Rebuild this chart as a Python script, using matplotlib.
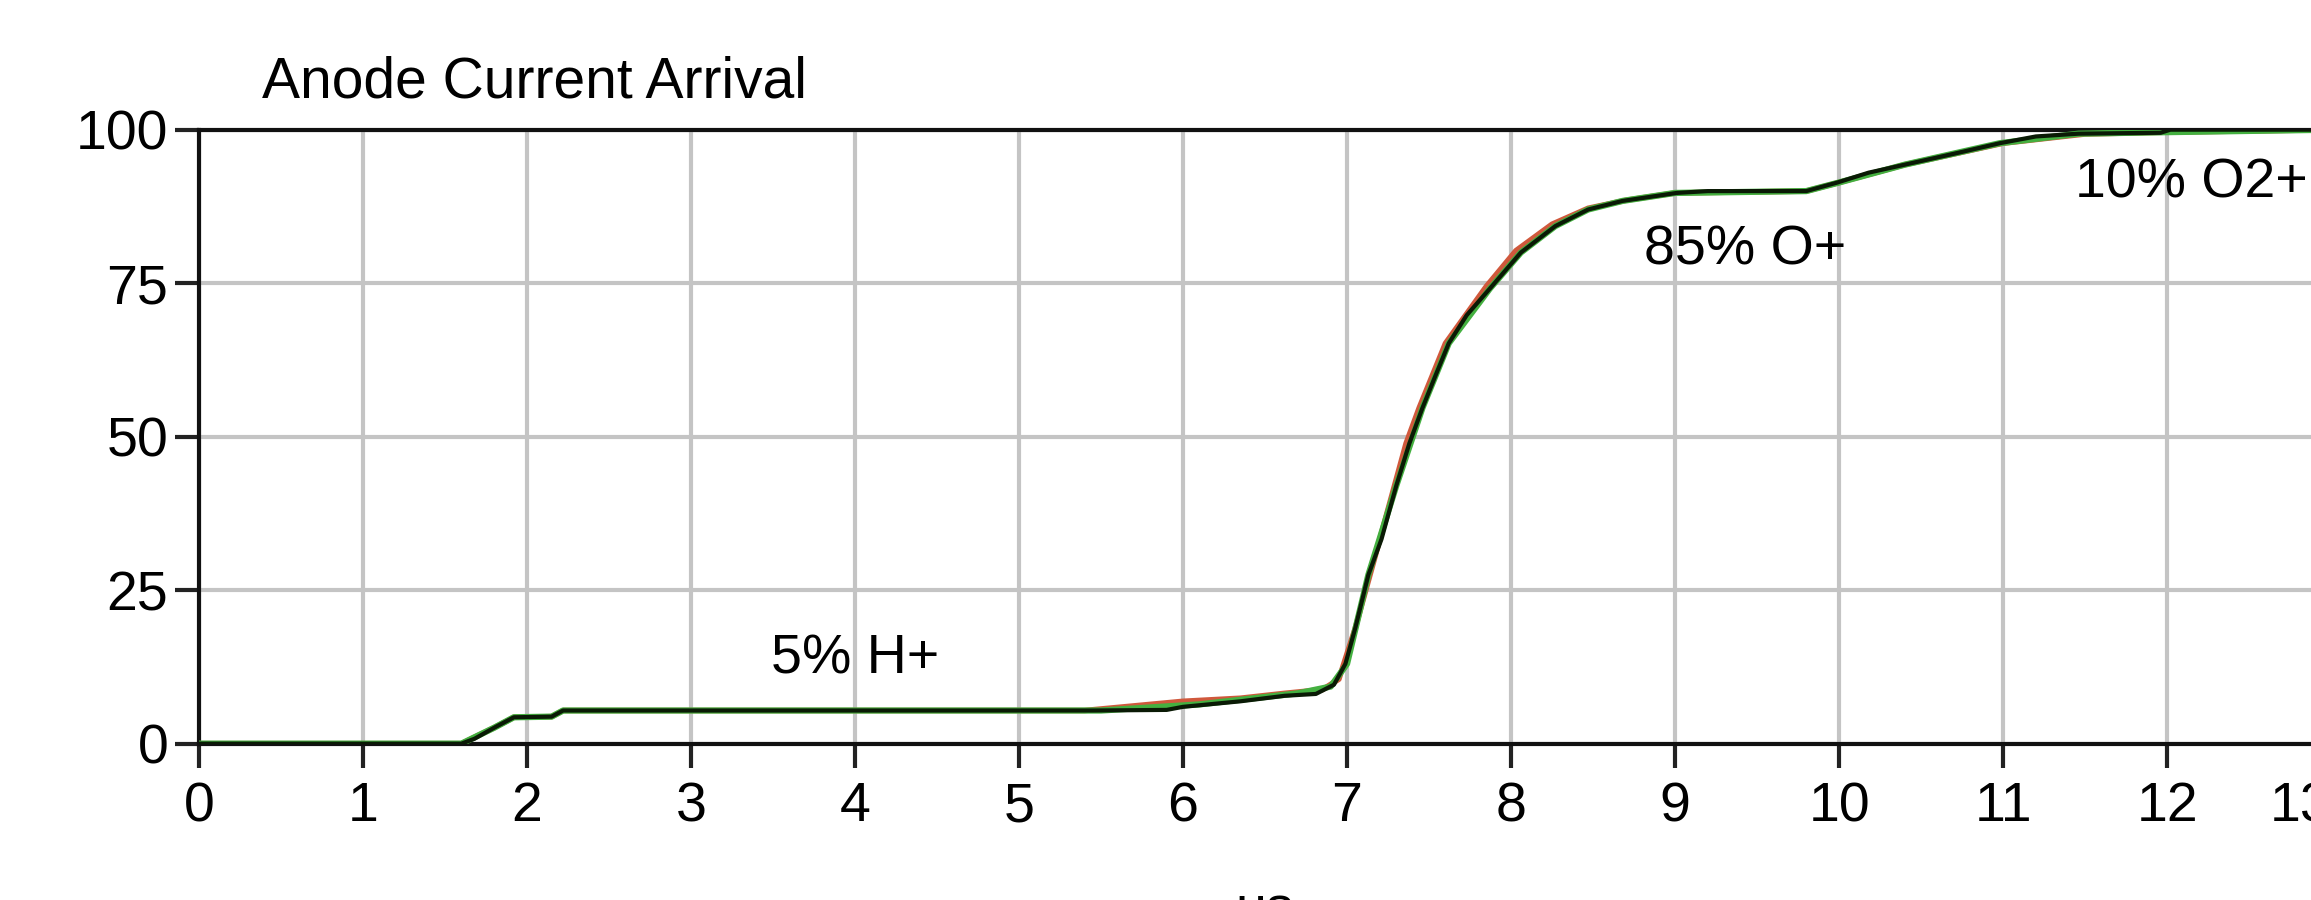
import matplotlib
matplotlib.use('Agg')
import matplotlib.pyplot as plt
from matplotlib.transforms import ScaledTranslation

# time (us) and cumulative anode current (%)
t_black = [0, 1.60, 1.68, 1.80, 1.92, 2.15, 2.22, 5.45, 5.9, 6.0, 6.35, 6.62, 6.81, 6.92,
           6.99, 7.05, 7.13, 7.21, 7.30, 7.38, 7.46, 7.54, 7.62, 7.73, 7.87, 8.06, 8.27,
           8.47, 8.68, 9.01, 9.2, 9.80, 9.99, 10.18, 10.4, 10.72, 10.98, 11.2, 11.46,
           11.96, 12.02, 13.0]
i_black = [0, 0, 0.8, 2.6, 4.3, 4.4, 5.4, 5.4, 5.5, 6.0, 6.9, 7.8, 8.1, 9.6,
           13.0, 18.8, 27.5, 33.3, 42.0, 48.9, 54.7, 60.0, 65.2, 69.8, 74.1, 80.0, 84.3,
           87.0, 88.4, 89.7, 90.0, 90.0, 91.4, 93.0, 94.3, 96.2, 97.8, 98.9, 99.35,
           99.5, 100, 100]

t_red = [0, 1.60, 1.80, 1.92, 2.15, 2.22, 5.4, 5.6, 5.8, 6.0, 6.35, 6.62, 6.85, 6.95,
         7.05, 7.2, 7.36, 7.44, 7.6, 7.85, 8.03, 8.25, 8.47, 8.7, 9.0, 9.8, 10.0,
         10.4, 11.0, 11.5, 12.0, 13.0]
i_red = [0, 0, 2.6, 4.3, 4.4, 5.4, 5.4, 5.9, 6.4, 6.9, 7.4, 8.2, 8.8, 10.5,
         18.8, 33.3, 48.9, 54.7, 65.2, 74.5, 80.3, 84.6, 87.2, 88.5, 89.7, 90.0, 91.4,
         94.3, 97.8, 99.3, 99.6, 100]

t_green = [0, 1.60, 1.80, 1.92, 2.15, 2.22, 5.5, 5.8, 6.1, 6.4, 6.7, 6.9, 7.0,
           7.13, 7.30, 7.46, 7.62, 7.87, 8.06, 8.27, 8.47, 8.68, 9.0, 9.8, 10.0,
           10.4, 10.98, 11.46, 12.0, 13.0]
i_green = [0, 0, 2.6, 4.3, 4.4, 5.4, 5.4, 5.9, 6.4, 7.3, 8.2, 9.3, 13.0,
           27.5, 42.0, 54.7, 65.2, 74.1, 80.0, 84.3, 87.0, 88.4, 89.7, 90.0, 91.4,
           94.3, 97.8, 99.35, 99.6, 100]

x_ticks = list(range(0, 14))
y_ticks = [0, 25, 50, 75, 100]

labels = ['5% H+', '85% O+', '10% O2+']
label_t = [4.0, 9.43, 12.15]
label_i = [13.7, 80.3, 91.2]

plt.rcParams['font.family'] = ['Liberation Sans', 'DejaVu Sans']

fig = plt.figure(figsize=(23.11, 9), dpi=100)
ax = fig.add_axes([0.0861, 0.1737, 1.0087 - 0.0861, 0.8559 - 0.1737])

ax.plot(t_red, i_red, color='#d0583c', lw=4, solid_capstyle='butt', zorder=3)
ax.plot(t_green, i_green, color='#44b040', lw=4.5, solid_capstyle='butt', zorder=4)
ax.plot(t_black, i_black, color='#0a1a05', lw=3, zorder=5)

ax.set_xlim(0, 13)
ax.set_ylim(0, 100)
ax.set_xticks(x_ticks)
ax.set_yticks(y_ticks)
ax.grid(True, color='#c4c4c4', lw=3)
ax.set_axisbelow(True)

for side in ['left', 'bottom', 'top']:
    ax.spines[side].set_linewidth(3)
    ax.spines[side].set_color('#111111')
ax.spines['right'].set_visible(False)

ax.tick_params(axis='both', labelsize=40, length=17, width=3, color='#222222', direction='out')
ax.tick_params(axis='x', pad=10)
ax.tick_params(axis='y', pad=5)

# last tick label is pulled left so it stays partly inside the picture
last = ax.get_xticklabels()[-1]
last.set_transform(last.get_transform() + ScaledTranslation(-0.3, 0, fig.dpi_scale_trans))

ax.set_xlabel('us', fontsize=40, labelpad=38)

for s, x, y in zip(labels, label_t, label_i):
    ax.text(x, y, s, fontsize=40, ha='center', va='center', zorder=6)

fig.text(0.1134, 0.892, 'Anode Current Arrival', fontsize=41, ha='left', va='baseline')

plt.savefig('out.png', dpi=100)
plt.close()
